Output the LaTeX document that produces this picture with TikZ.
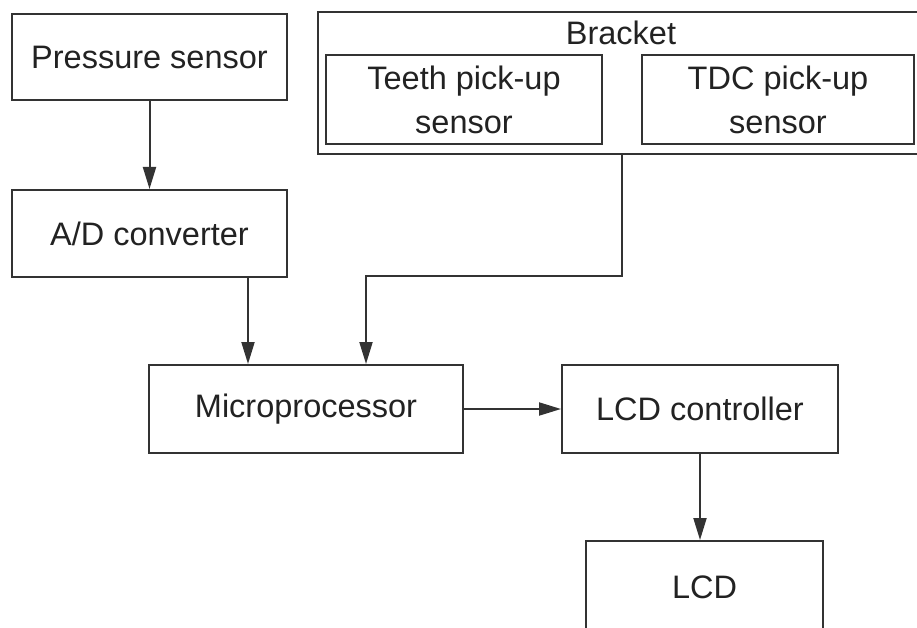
\documentclass[tikz,border=0pt]{standalone}
\usepackage{fontspec}
\setmainfont{Liberation Sans}
\usetikzlibrary{arrows.meta}
\definecolor{ln}{HTML}{333333}
\definecolor{tx}{HTML}{222222}
\tikzset{
  blk/.style={draw=ln, line width=2pt, rectangle, inner sep=0pt, text=tx,
    font=\fontsize{32.5}{44}\selectfont, align=center},
  arr/.style={draw=ln, line width=2pt, -{Triangle[length=22pt,width=13pt]}},
}
\begin{document}
\begin{tikzpicture}[x=1pt,y=-1pt]
\useasboundingbox (0,0) rectangle (917,628);
\node[blk, minimum width=275pt, minimum height=86pt] (ps) at (149.5,57) {Pressure sensor};
\node[blk, minimum width=275pt, minimum height=87pt] (ad) at (149.5,233.5) {A/D converter};
\node[blk, minimum width=604pt, minimum height=142pt] (br) at (620,83) {};
\node[text=tx, font=\fontsize{32.5}{44}\selectfont, inner sep=0pt] (brt) at (621,33) {Bracket};
\node[blk, minimum width=276pt, minimum height=89pt] (teeth) at (464,99.5) {Teeth pick-up\\sensor};
\node[blk, minimum width=272pt, minimum height=89pt] (tdc) at (778,99.5) {TDC pick-up\\sensor};
\node[blk, minimum width=314pt, minimum height=88pt] (mp) at (306,409) {Microprocessor};
\node[blk, minimum width=276pt, minimum height=88pt] (lcdc) at (700,409) {LCD controller};
\node[blk, minimum width=237pt, minimum height=100pt] (lcd) at (704.5,591) {\raisebox{8pt}{LCD}};
\draw[arr] (ps.south) -- (ad.north);
\draw[arr] ([xshift=98.5pt]ad.south) -- ([xshift=-58pt]mp.north);
\draw[arr] ([xshift=2pt]br.south) |- ([xshift=60pt,yshift=88pt]mp.north) -- ([xshift=60pt]mp.north);
\draw[arr] (mp.east) -- (lcdc.west);
\draw[arr] (lcdc.south) -- (lcdc.south |- lcd.north);
\end{tikzpicture}
\end{document}
